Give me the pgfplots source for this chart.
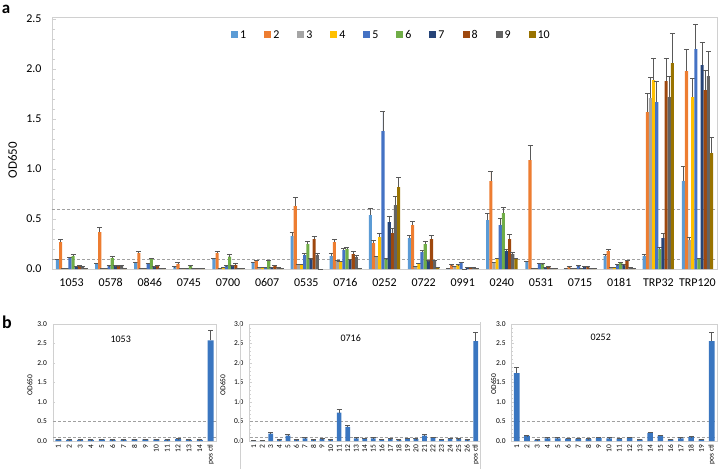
\documentclass[border=0pt]{standalone}
\usepackage{fontspec}
\setmainfont{Carlito}
\usepackage{pgfplots}
\pgfplotsset{compat=1.18}
\usepackage{pgfplotstable}
\definecolor{c1}{HTML}{5B9BD5}
\definecolor{c2}{HTML}{ED7D31}
\definecolor{c3}{HTML}{A5A5A5}
\definecolor{c4}{HTML}{FFC000}
\definecolor{c5}{HTML}{4472C4}
\definecolor{c6}{HTML}{70AD47}
\definecolor{c7}{HTML}{264478}
\definecolor{c8}{HTML}{9E480E}
\definecolor{c9}{HTML}{636363}
\definecolor{c10}{HTML}{997300}
\definecolor{errc}{HTML}{595959}
\definecolor{bblue}{HTML}{3A76C0}
\definecolor{axc}{HTML}{D0D0D0}
\definecolor{dashc}{HTML}{A0A0A0}

\pgfplotstableread{
x v1 e1 v2 e2 v3 e3 v4 e4 v5 e5 v6 e6 v7 e7 v8 e8 v9 e9 v10 e10
0  0.09 0.01 0.27 0.03 0.005 0 0.005 0 0.11 0.01 0.13 0.02 0.025 0.005 0.03 0.005 0.02 0.005 0.01 0
1  0.05 0.01 0.37 0.05 0.01 0 0.01 0 0.03 0.005 0.11 0.02 0.03 0.005 0.03 0.005 0.03 0.005 0.01 0
2  0.06 0.01 0.16 0.02 0.005 0 0.005 0 0.05 0.01 0.10 0.01 0.02 0.005 0.03 0.005 0.01 0 0.005 0
3  0.02 0.005 0.05 0.015 0.005 0 0.005 0 0.01 0 0.03 0.005 0.01 0 0.01 0 0.01 0 0.005 0
4  0.10 0.01 0.16 0.02 0.01 0 0.02 0 0.03 0.005 0.125 0.02 0.03 0.005 0.04 0.015 0.01 0 0.005 0
5  0.06 0.01 0.08 0.01 0.02 0 0.02 0 0.02 0 0.08 0.01 0.02 0 0.03 0.01 0.02 0 0.005 0
6  0.33 0.04 0.63 0.09 0.05 0 0.05 0 0.14 0.02 0.25 0.03 0.10 0.005 0.30 0.03 0.14 0.02 0 0
7  0.13 0.03 0.27 0.03 0.08 0.005 0.08 0 0.19 0.02 0.20 0.02 0.09 0.01 0.15 0.03 0.12 0.02 0.01 0
8  0.54 0.07 0.26 0.03 0.12 0.01 0.32 0.04 1.38 0.20 0.10 0.005 0.47 0.06 0.36 0.05 0.64 0.09 0.82 0.10
9  0.31 0.03 0.44 0.04 0.03 0 0.05 0.01 0.17 0.02 0.25 0.03 0.08 0.005 0.30 0.04 0.08 0.01 0.02 0
10 0.01 0 0.04 0.005 0.03 0 0.04 0.005 0.06 0.01 0 0 0.02 0 0.02 0 0.02 0 0.005 0
11 0.49 0.07 0.88 0.10 0.07 0 0.10 0.01 0.44 0.07 0.56 0.06 0.18 0.02 0.30 0.05 0.15 0.02 0.10 0.01
12 0.07 0.01 1.09 0.15 0.005 0 0.005 0 0.05 0.01 0.05 0.005 0.02 0 0.02 0.005 0.01 0 0.005 0
13 0.01 0 0.02 0.005 0.005 0 0.005 0 0.03 0.005 0.01 0 0.02 0.005 0.02 0.005 0.01 0 0.005 0
14 0.13 0.02 0.18 0.02 0.02 0 0.02 0 0.04 0.005 0.06 0.01 0.04 0.005 0.08 0.01 0.02 0 0.005 0
15 0.13 0.02 1.57 0.19 1.71 0.21 1.89 0.22 1.67 0.21 0.20 0.02 0.31 0.05 1.88 0.23 1.72 0.21 2.06 0.30
16 0.88 0.15 1.98 0.22 0.29 0.03 1.72 0.19 2.20 0.25 0.10 0.01 2.04 0.23 1.79 0.20 1.93 0.25 1.16 0.16
}\dataA

\pgfplotstableread{
x y e
0 0.04 0.005
1 0.03 0.005
2 0.03 0.005
3 0.03 0.005
4 0.04 0.005
5 0.03 0.005
6 0.03 0.005
7 0.04 0.005
8 0.04 0.005
9 0.04 0.005
10 0.03 0.005
11 0.05 0.005
12 0.03 0.005
13 0.03 0.005
14 2.58 0.25
}\dataBa

\pgfplotstableread{
x y e
0 0.01 0.005
1 0.01 0.005
2 0.19 0.03
3 0.03 0.005
4 0.14 0.02
5 0.03 0.005
6 0.07 0.01
7 0.03 0.005
8 0.05 0.005
9 0.03 0.005
10 0.73 0.09
11 0.36 0.04
12 0.07 0.01
13 0.06 0.01
14 0.07 0.01
15 0.04 0.005
16 0.05 0.005
17 0.03 0.005
18 0.06 0.01
19 0.05 0.005
20 0.14 0.02
21 0.08 0.01
22 0.04 0.005
23 0.06 0.01
24 0.05 0.005
25 0.03 0.005
26 2.56 0.23
}\dataBb

\pgfplotstableread{
x y e
0 1.74 0.15
1 0.13 0.01
2 0.03 0.005
3 0.07 0.01
4 0.07 0.01
5 0.06 0.01
6 0.06 0.01
7 0.05 0.005
8 0.08 0.01
9 0.07 0.01
10 0.06 0.01
11 0.08 0.01
12 0.04 0.005
13 0.20 0.02
14 0.14 0.01
15 0.04 0.005
16 0.07 0.01
17 0.10 0.01
18 0.04 0.005
19 2.56 0.23
}\dataBc

\pgfplotsset{
  eb/.style={error bars/.cd, y dir=plus, y explicit,
    error bar style={draw=errc, line width=0.8bp, solid},
    error mark options={rotate=90, draw=errc, mark size=2.5bp, line width=0.8bp, solid}},
  sqleg/.style={legend image code/.code={\fill[##1,draw=none] (0bp,-3.5bp) rectangle (7bp,3.5bp);}},
  bstyle/.style={
    anchor=south west, scale only axis, height=117bp,
    ybar, bar width=0.55, ymin=0, ymax=3,
    ytick={0,0.5,1,1.5,2,2.5,3}, minor y tick num=4,
    yticklabel={\pgfmathprintnumber{\tick}},
    yticklabel style={/pgf/number format/fixed, /pgf/number format/fixed zerofill,
      /pgf/number format/precision=1, /pgf/number format/assume math mode=true,
      font=\fontsize{7.5}{8}\selectfont, xshift=-2.5bp},
    xticklabel style={rotate=90, anchor=east, font=\fontsize{7.5}{8}\selectfont},
    axis line style={axc}, tick pos=left,
    tick align=inside, major tick length=2.5bp, minor tick length=1.5bp,
    xtick style={draw=none}, ytick style={axc}, minor y tick style={axc},
  },
}

\begin{document}
\begin{tikzpicture}
\useasboundingbox (0,0) rectangle (718bp,-469bp);

% ---------------- panel a ----------------
\begin{axis}[
  at={(52bp,-269bp)}, anchor=south west,
  width=665bp, height=252bp, scale only axis,
  ybar, bar width=0.08,
  xmin=-0.5, xmax=16.5, ymin=0, ymax=2.52,
  xtick={0,...,16},
  xticklabels={1053,0578,0846,0745,0700,0607,0535,0716,0252,0722,0991,0240,0531,0715,0181,TRP32,TRP120},
  ytick={0,0.5,1,1.5,2,2.5},
  minor y tick num=4,
  yticklabel={\pgfmathprintnumber{\tick}},
  yticklabel style={/pgf/number format/fixed, /pgf/number format/fixed zerofill,
      /pgf/number format/precision=1, /pgf/number format/assume math mode=true,
      font=\fontsize{12}{14}\selectfont, xshift=-7bp},
  xticklabel style={font=\fontsize{12}{14}\selectfont, yshift=-6bp},
  axis line style={axc},
  tick pos=left, tick align=inside, major tick length=4bp, minor tick length=3bp,
  xtick style={draw=none}, ytick style={axc}, minor y tick style={axc},
  legend columns=10,
  legend style={draw=none, fill=none, at={(0.5105,0.9286)}, anchor=center,
    font=\fontsize{12}{14}\selectfont,
    /tikz/every even column/.append style={column sep=16bp}},
]
\addplot[dashc, dash pattern=on 3bp off 2bp, line width=0.8bp, sharp plot, forget plot] coordinates {(-0.5,0.1) (16.5,0.1)};
\addplot[dashc, dash pattern=on 3bp off 2bp, line width=0.8bp, sharp plot, forget plot] coordinates {(-0.5,0.6) (16.5,0.6)};
\addplot[fill=c1, draw=none, bar shift=-0.36, sqleg, eb] table[x=x, y=v1, y error=e1]{\dataA};
\addplot[fill=c2, draw=none, bar shift=-0.28, sqleg, eb] table[x=x, y=v2, y error=e2]{\dataA};
\addplot[fill=c3, draw=none, bar shift=-0.20, sqleg, eb] table[x=x, y=v3, y error=e3]{\dataA};
\addplot[fill=c4, draw=none, bar shift=-0.12, sqleg, eb] table[x=x, y=v4, y error=e4]{\dataA};
\addplot[fill=c5, draw=none, bar shift=-0.04, sqleg, eb] table[x=x, y=v5, y error=e5]{\dataA};
\addplot[fill=c6, draw=none, bar shift=0.04, sqleg, eb] table[x=x, y=v6, y error=e6]{\dataA};
\addplot[fill=c7, draw=none, bar shift=0.12, sqleg, eb] table[x=x, y=v7, y error=e7]{\dataA};
\addplot[fill=c8, draw=none, bar shift=0.20, sqleg, eb] table[x=x, y=v8, y error=e8]{\dataA};
\addplot[fill=c9, draw=none, bar shift=0.28, sqleg, eb] table[x=x, y=v9, y error=e9]{\dataA};
\addplot[fill=c10, draw=none, bar shift=0.36, sqleg, eb] table[x=x, y=v10, y error=e10]{\dataA};
\legend{1,2,3,4,5,6,7,8,9,10}
\end{axis}

% ---------------- panel b ----------------
\begin{axis}[bstyle, at={(52.9bp,-441bp)}, width=163.2bp,
  xmin=-0.5, xmax=14.5, xtick={0,...,14},
  xticklabels={1,2,3,4,5,6,7,8,9,10,11,12,13,14,pos ctl}]
\addplot[dashc, dash pattern=on 3bp off 2bp, line width=0.7bp, sharp plot, forget plot] coordinates {(-0.5,0.1) (14.5,0.1)};
\addplot[dashc, dash pattern=on 3bp off 2bp, line width=0.7bp, sharp plot, forget plot] coordinates {(-0.5,0.5) (14.5,0.5)};
\addplot[fill=bblue, draw=none, bar shift=0, eb] table[x=x, y=y, y error=e]{\dataBa};
\end{axis}

\begin{axis}[bstyle, at={(249.5bp,-441bp)}, width=230.5bp,
  xmin=-0.5, xmax=26.5, xtick={0,...,26},
  xticklabels={1,2,3,4,5,6,7,8,9,10,11,12,13,14,15,16,17,18,19,20,21,22,23,24,25,26,pos ctl}]
\addplot[dashc, dash pattern=on 3bp off 2bp, line width=0.7bp, sharp plot, forget plot] coordinates {(-0.5,0.1) (26.5,0.1)};
\addplot[dashc, dash pattern=on 3bp off 2bp, line width=0.7bp, sharp plot, forget plot] coordinates {(-0.5,0.5) (26.5,0.5)};
\addplot[fill=bblue, draw=none, bar shift=0, eb] table[x=x, y=y, y error=e]{\dataBb};
\end{axis}

\begin{axis}[bstyle, at={(511.6bp,-441bp)}, width=205.2bp,
  xmin=-0.5, xmax=19.5, xtick={0,...,19},
  xticklabels={1,2,3,4,5,6,7,8,9,10,11,12,13,14,15,16,17,18,19,pos ctl}]
\addplot[dashc, dash pattern=on 3bp off 2bp, line width=0.7bp, sharp plot, forget plot] coordinates {(-0.5,0.1) (19.5,0.1)};
\addplot[dashc, dash pattern=on 3bp off 2bp, line width=0.7bp, sharp plot, forget plot] coordinates {(-0.5,0.5) (19.5,0.5)};
\addplot[fill=bblue, draw=none, bar shift=0, eb] table[x=x, y=y, y error=e]{\dataBc};
\end{axis}

% ---------------- text ----------------
\node[font=\bfseries\fontsize{17}{18}\selectfont, inner sep=0pt, anchor=base] at (6bp,-13bp) {a};
\node[font=\bfseries\fontsize{18}{19}\selectfont, inner sep=0pt] at (7bp,-322bp) {b};
\node[rotate=90, font=\fontsize{13}{14}\selectfont] at (12.5bp,-160bp) {OD650};
\node[font=\fontsize{10}{12}\selectfont] at (120.7bp,-339bp) {1053};
\node[font=\fontsize{10}{12}\selectfont] at (350.7bp,-338bp) {0716};
\node[font=\fontsize{10}{12}\selectfont] at (600.7bp,-337bp) {0252};
\node[rotate=90, font=\fontsize{7.5}{8}\selectfont] at (30bp,-385bp) {OD650};
\node[rotate=90, font=\fontsize{7.5}{8}\selectfont] at (223bp,-385bp) {OD650};
\node[rotate=90, font=\fontsize{7.5}{8}\selectfont] at (493.5bp,-384bp) {OD650};
\draw[axc, line width=0.6bp] (240bp,-322bp) -- (240bp,-469bp);
\draw[axc, line width=0.6bp] (480bp,-322bp) -- (480bp,-469bp);
\end{tikzpicture}
\end{document}
